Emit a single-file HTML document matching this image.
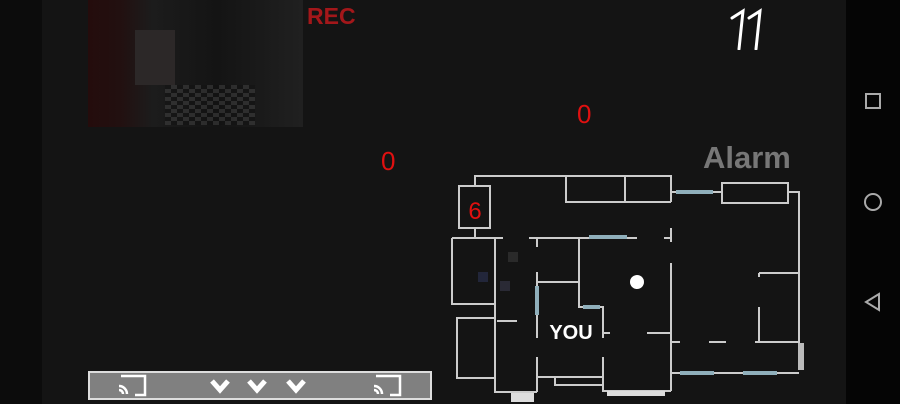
<!DOCTYPE html>
<html><head><style>
body{margin:0;width:900px;height:404px;overflow:hidden;background:#141414;font-family:"Liberation Sans",sans-serif;position:relative}
.t{position:absolute;white-space:nowrap}
</style></head><body>
<div style="position:absolute;left:0;top:0;width:42px;height:404px;background:#0c0c0c"></div>
<div style="position:absolute;left:846px;top:0;width:54px;height:404px;background:#050505"></div>
<div style="position:absolute;left:88px;top:0;width:215px;height:127px;background:linear-gradient(90deg,#240c0c 0,#221010 15%,#1c1c1c 30%,#141414 60%,#202020 100%)"></div>
<div style="position:absolute;left:135px;top:30px;width:40px;height:55px;background:#2c2828"></div>
<div style="position:absolute;left:165px;top:85px;width:90px;height:40px;background:repeating-conic-gradient(#444 0 25%,#111 0 50%) 0 0/12px 8px;opacity:.5"></div>
<div class="t" style="left:307px;top:3px;font-size:23px;font-weight:bold;color:#a3171a">REC</div>
<svg style="position:absolute;left:725px;top:5px" width="45" height="45"><g stroke="#fff" stroke-width="3" fill="none" stroke-linecap="round"><path d="M7,13L18,6L14,44M24,13L35,6L31,44"/></g></svg>
<div class="t" style="left:577px;top:99px;font-size:26px;color:#e01010">0</div>
<div class="t" style="left:381px;top:146px;font-size:26px;color:#e01010">0</div>
<div class="t" style="left:703px;top:140px;font-size:31px;font-weight:bold;color:#777">Alarm</div>
<svg style="position:absolute;left:0;top:0" width="900" height="404">
<g stroke="#ccc" stroke-width="2" fill="none">
<path d="M475,186V176H671V202M566,176V202H671M625,176V202"/>
<rect x="459" y="186" width="31" height="42"/>
<rect x="722" y="183" width="66" height="20"/>
<path d="M671,192H722M788,192H799V343M671,373H799"/>
<path d="M671,228V242M671,263V391M475,228V238M452,238H503M529,238H637M664,238H671"/>
<path d="M495,238V304H452V238M495,304V337M495,353V392H537M457,318H495V378H457Z"/>
<path d="M537,238V247M537,272V338M537,357V392M537,282H579M579,238V307H603V338M603,357V391H671"/>
<path d="M497,321H517M537,377H603M555,377V385H603M603,333H610M647,333H671M671,342H680M709,342H726M755,342H799M759,273H799M759,273V277M759,307V342"/>
</g>
<g stroke="#8fafbb" stroke-width="4">
<path d="M676,192H713M589,237H627M537,286V315M583,307H600M680,373H714M743,373H777"/>
</g>
<rect x="798" y="343" width="6" height="27" fill="#bbb"/>
<rect x="511" y="393" width="23" height="9" fill="#ddd"/>
<rect x="607" y="391" width="58" height="5" fill="#ddd"/>
<circle cx="637" cy="282" r="7" fill="#fff"/>
<rect x="508" y="252" width="10" height="10" fill="#2a2a2a"/>
<rect x="478" y="272" width="10" height="10" fill="#22263a"/>
<rect x="500" y="281" width="10" height="10" fill="#2a2a35"/>
<text x="475" y="219" font-size="24" fill="#e01010" text-anchor="middle" font-family="Liberation Sans">6</text>
<text x="571" y="339" font-size="20" font-weight="bold" fill="#fff" text-anchor="middle" font-family="Liberation Sans">YOU</text>
<rect x="89" y="372" width="342" height="27" fill="#808080" stroke="#ddd" stroke-width="2"/>
<g stroke="#fff" stroke-width="2.5" fill="none">
<path d="M121,376H145V395H135M376,376H400V395H390"/>
<path d="M119,386a8,8 0 0 1 8,8M119,390a4,4 0 0 1 4,4M374,386a8,8 0 0 1 8,8M374,390a4,4 0 0 1 4,4"/>
</g>
<g stroke="#fff" stroke-width="5" fill="none">
<path d="M212,381l8,9l8,-9M249,381l8,9l8,-9M288,381l8,9l8,-9"/>
</g>
<rect x="866" y="94" width="14" height="14" fill="none" stroke="#aaa" stroke-width="2"/>
<circle cx="873" cy="202" r="8" fill="none" stroke="#aaa" stroke-width="2"/>
<path d="M879,294L866,302L879,310Z" fill="none" stroke="#aaa" stroke-width="2"/>
</svg>
</body></html>
